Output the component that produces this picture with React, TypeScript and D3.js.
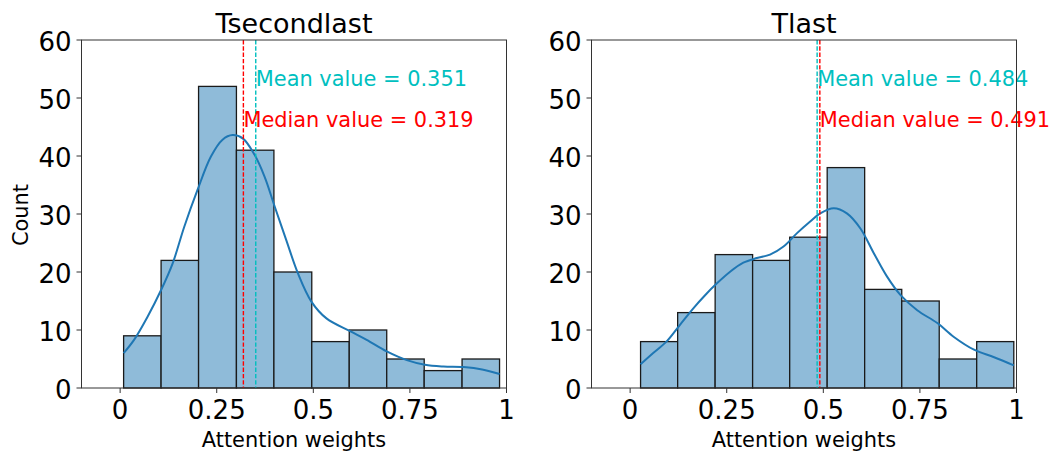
import React from "react";
import * as d3 from "d3";

// ---- data -------------------------------------------------------------
const panelTitles = ["Tsecondlast", "Tlast"];

// histogram bin edges (attention weight) and counts per bin
const binEdgesSecondLast = [0.009, 0.106, 0.203, 0.301, 0.398, 0.496, 0.593, 0.69, 0.787, 0.885, 0.982];
const countsSecondLast = [9, 22, 52, 41, 20, 8, 10, 5, 3, 5];

const binEdgesLast = [0.027, 0.123, 0.22, 0.317, 0.413, 0.51, 0.607, 0.703, 0.8, 0.897, 0.993];
const countsLast = [8, 13, 23, 22, 26, 38, 17, 15, 5, 8];

// kernel density estimate, scaled to counts: [weight, count]
const kdeSecondLast: [number, number][] = [
  [0.009, 6.0], [0.036, 8.3], [0.071, 12.3], [0.106, 16.9], [0.136, 21.5],
  [0.166, 27.8], [0.2, 34.1], [0.235, 39.9], [0.265, 42.8], [0.291, 43.6],
  [0.318, 43.0], [0.348, 40.2], [0.374, 36.4], [0.4, 31.3], [0.43, 25.5],
  [0.46, 19.8], [0.495, 14.9], [0.534, 12.0], [0.595, 9.8], [0.638, 8.3],
  [0.69, 6.3], [0.742, 4.8], [0.789, 4.0], [0.837, 3.7], [0.889, 3.6],
  [0.937, 3.2], [0.982, 2.4],
];
const kdeLast: [number, number][] = [
  [0.027, 4.1], [0.059, 6.0], [0.094, 8.0], [0.129, 10.9], [0.163, 13.7],
  [0.194, 16.0], [0.224, 18.0], [0.258, 20.0], [0.293, 21.6], [0.328, 22.4],
  [0.362, 23.0], [0.397, 24.4], [0.432, 26.7], [0.466, 28.7], [0.492, 30.1],
  [0.527, 31.0], [0.561, 30.1], [0.596, 27.5], [0.631, 23.2], [0.665, 19.2],
  [0.7, 16.0], [0.743, 13.4], [0.795, 11.2], [0.838, 8.8], [0.89, 6.6],
  [0.942, 5.3], [0.993, 3.9],
];

const meanValues = [0.351, 0.484];
const medianValues = [0.319, 0.491];

const xTickValues = [0, 0.25, 0.5, 0.75, 1];
const xTickLabels = ["0", "0.25", "0.5", "0.75", "1"];
const yTickValues = [0, 10, 20, 30, 40, 50, 60];

// ---- layout -----------------------------------------------------------
const W = 1053;
const H = 454;
const TOP = 40;
const BOTTOM = 388;
const panelX: [number, number][] = [
  [81.5, 506.5],
  [591.5, 1016.5],
];
const FONT = "DejaVu Sans, Verdana, sans-serif";
const BAR_FILL = "#8fbbd9";
const LINE_BLUE = "#1f77b4";
const MEAN_COLOR = "#00bfbf";
const MEDIAN_COLOR = "#ff0000";
const LABEL_SIZE = 20.9;

type PanelProps = {
  idx: number;
  title: string;
  edges: number[];
  counts: number[];
  kde: [number, number][];
  mean: number;
  median: number;
  showYLabel: boolean;
};

function Panel({ idx, title, edges, counts, kde, mean, median, showYLabel }: PanelProps) {
  const [x0, x1] = panelX[idx];
  const x = d3.scaleLinear().domain([-0.1, 1]).range([x0, x1]);
  const y = d3.scaleLinear().domain([0, 60]).range([BOTTOM, TOP]);
  const line = d3
    .line<[number, number]>()
    .x((d) => x(d[0]))
    .y((d) => y(d[1]))
    .curve(d3.curveCatmullRom.alpha(0.5));
  const cx = (x0 + x1) / 2;

  return (
    <g>
      {/* bars */}
      {counts.map((c, i) => (
        <rect
          key={i}
          x={x(edges[i])}
          y={y(c)}
          width={x(edges[i + 1]) - x(edges[i])}
          height={y(0) - y(c)}
          fill={BAR_FILL}
          stroke="#1a1a1a"
          strokeWidth={1.3}
        />
      ))}
      {/* kde curve */}
      <path d={line(kde) || ""} fill="none" stroke={LINE_BLUE} strokeWidth={2} />
      {/* median & mean markers */}
      <line x1={x(median)} x2={x(median)} y1={TOP} y2={BOTTOM} stroke={MEDIAN_COLOR} strokeWidth={1.4} strokeDasharray="4.4,1.9" />
      <line x1={x(mean)} x2={x(mean)} y1={TOP} y2={BOTTOM} stroke={MEAN_COLOR} strokeWidth={1.4} strokeDasharray="4.4,1.9" />
      <text x={x(mean)} y={y(52)} fill={MEAN_COLOR} fontSize={LABEL_SIZE} fontFamily={FONT}>
        {`Mean value = ${mean.toFixed(3)}`}
      </text>
      <text x={x(median)} y={y(45)} fill={MEDIAN_COLOR} fontSize={LABEL_SIZE} fontFamily={FONT}>
        {`Median value = ${median.toFixed(3)}`}
      </text>
      {/* frame, drawn over the annotations */}
      <rect x={x0} y={TOP} width={x1 - x0} height={BOTTOM - TOP} fill="none" stroke="#333" strokeWidth={1} />
      {/* x ticks */}
      {xTickValues.map((v, i) => (
        <g key={v}>
          <line x1={x(v)} x2={x(v)} y1={BOTTOM} y2={BOTTOM + 5} stroke="#333" strokeWidth={1} />
          <text x={x(v)} y={BOTTOM + 31} textAnchor="middle" fontSize={26} fontFamily={FONT} fill="#000">
            {xTickLabels[i]}
          </text>
        </g>
      ))}
      {/* y ticks */}
      {yTickValues.map((v) => (
        <g key={v}>
          <line x1={x0 - 5} x2={x0} y1={y(v)} y2={y(v)} stroke="#333" strokeWidth={1} />
          <text x={x0 - 10} y={y(v) + 11.3} textAnchor="end" fontSize={26} fontFamily={FONT} fill="#000">
            {v}
          </text>
        </g>
      ))}
      {/* titles and labels */}
      <text x={cx} y={33} textAnchor="middle" fontSize={27} fontFamily={FONT} fill="#000">
        {title}
      </text>
      <text x={cx} y={447} textAnchor="middle" fontSize={LABEL_SIZE} fontFamily={FONT} fill="#000">
        Attention weights
      </text>
      {showYLabel && (
        <text
          transform={`translate(28,${(TOP + BOTTOM) / 2 + 1}) rotate(-90)`}
          textAnchor="middle"
          fontSize={LABEL_SIZE}
          fontFamily={FONT}
          fill="#000"
        >
          Count
        </text>
      )}
    </g>
  );
}

export default function App() {
  return (
    <svg
      width={W}
      height={H}
      viewBox={`0 0 ${W} ${H}`}
      style={{ position: "absolute", left: 0, top: 0, background: "#fff" }}
    >
      <rect width={W} height={H} fill="#fff" />
      <Panel
        idx={0}
        title={panelTitles[0]}
        edges={binEdgesSecondLast}
        counts={countsSecondLast}
        kde={kdeSecondLast}
        mean={meanValues[0]}
        median={medianValues[0]}
        showYLabel={true}
      />
      <Panel
        idx={1}
        title={panelTitles[1]}
        edges={binEdgesLast}
        counts={countsLast}
        kde={kdeLast}
        mean={meanValues[1]}
        median={medianValues[1]}
        showYLabel={false}
      />
    </svg>
  );
}
